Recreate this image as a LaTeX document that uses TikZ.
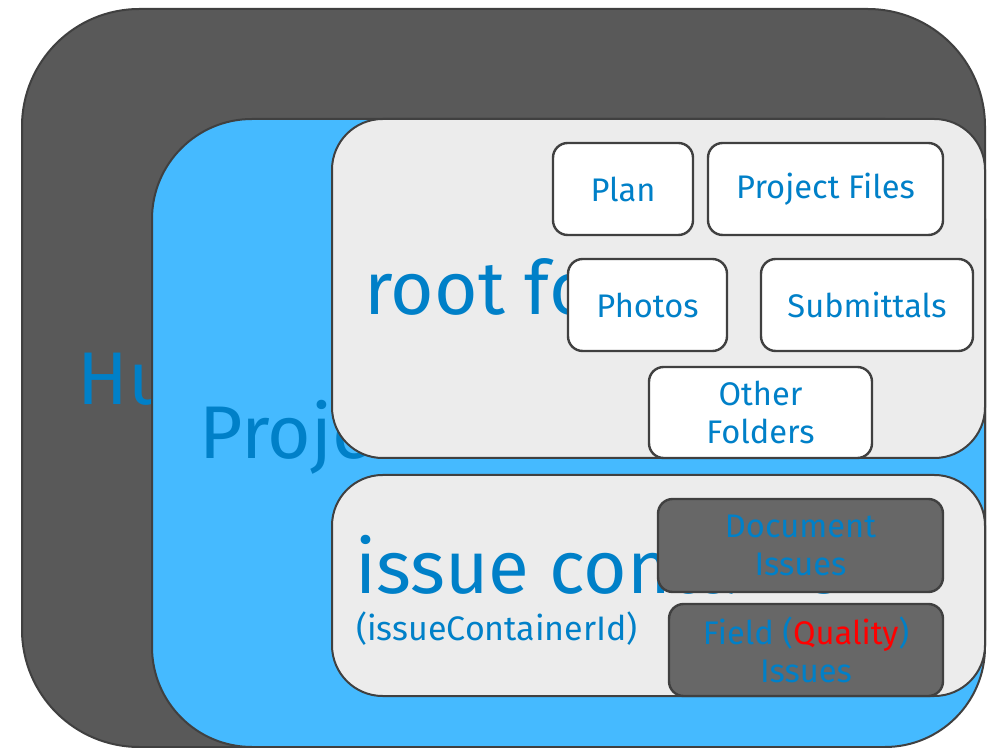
\documentclass[tikz,border=0pt]{standalone}
\usepackage{fontspec}
\setmainfont{Fira Sans}
\definecolor{hubgray}{RGB}{89,89,89}
\definecolor{edgegray}{RGB}{64,64,64}
\definecolor{projblue}{RGB}{69,186,255}
\definecolor{boxgray}{RGB}{236,236,236}
\definecolor{issuegray}{RGB}{103,103,103}
\definecolor{textblue}{RGB}{0,128,200}
\tikzset{
  container/.style={draw=edgegray, line width=1.5pt, rectangle},
  folder/.style={draw=edgegray, line width=1.8pt, rectangle, rounded corners=11pt, fill=white, text=textblue, align=center, font=\fontsize{24.5}{28}\selectfont},
  issuebox/.style={folder, fill=issuegray},
  biglabel/.style={anchor=base west, inner sep=0pt, text=textblue, font=\fontsize{56}{60}\selectfont},
}
\begin{document}
\begin{tikzpicture}[x=0.75pt,y=0.75pt,yscale=-1]

    \useasboundingbox (0,0) rectangle (993,748);

    \draw (503.5,378) node [container, fill=hubgray, rounded corners=88pt, minimum width=722.25pt, minimum height=553.5pt] (hub) {};
    \draw (77,405) node [biglabel] (hublabel) {Hub};
    \draw (568.5,433) node [container, fill=projblue, rounded corners=75pt, minimum width=624.75pt, minimum height=471pt] (project) {};
    \draw (199,459) node [biglabel] (projectlabel) {Project};
    \draw (658.5,288.5) node [container, fill=boxgray, rounded corners=38pt, minimum width=489.75pt, minimum height=254.25pt] (root) {};
    \draw (364,315) node [biglabel] (rootlabel) {root folder};

    \draw (623,189)     node [folder, minimum width=105pt, minimum height=69pt] (plan) {Plan};
    \draw (825.5,189)   node [folder, minimum width=176.25pt, minimum height=69pt] (files) {Project Files};
    \draw (647.5,305)   node [folder, minimum width=119.25pt, minimum height=69pt] (photos) {Photos};
    \draw (867,305)     node [folder, minimum width=159pt, minimum height=69pt] (submittals) {Submittals};
    \draw (760.5,412.5) node [folder, minimum width=167.25pt, minimum height=68.25pt] (other) {Other\\Folders};

    \draw (658.5,585.5) node [container, fill=boxgray, rounded corners=38pt, minimum width=489.75pt, minimum height=165.75pt] (issues) {};
    \draw (355,594) node [biglabel] (issueslabel) {issue container};
    \draw (356,640) node [biglabel, font=\fontsize{25.5}{28}\selectfont] (idlabel) {(issueContainerId)};

    \draw (800.5,545.5) node [issuebox, minimum width=213.75pt, minimum height=69.75pt] (docissues) {Document\\Issues};
    \draw (806,650)     node [issuebox, minimum width=205.5pt, minimum height=69pt] (fieldissues) {Field (\textcolor{red}{Quality})\\Issues};

\end{tikzpicture}
\end{document}
